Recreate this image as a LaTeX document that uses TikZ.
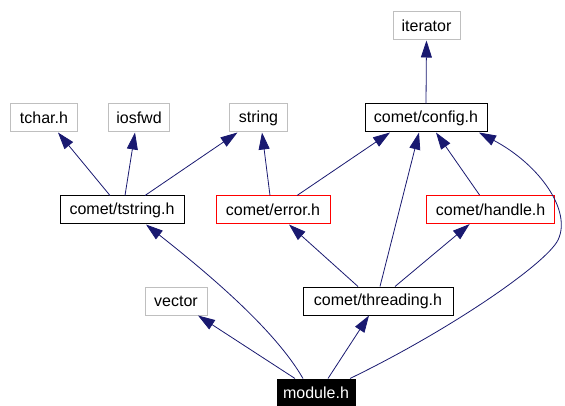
\documentclass[tikz,border=0pt]{standalone}
\usepackage{fontspec}
\setmainfont{Liberation Sans}
\usetikzlibrary{arrows.meta}
\definecolor{edgec}{RGB}{25,25,112}
\definecolor{extgray}{RGB}{191,191,191}
\definecolor{boxred}{RGB}{255,0,0}
\begin{document}
\begin{tikzpicture}[x=1pt,y=-1pt,
 box/.style={draw, minimum height=28pt, inner sep=0pt, font=\fontsize{16}{18}\selectfont, line width=1pt},
 ext/.style={box, draw=extgray},
 plainbox/.style={box, draw=black},
 redbox/.style={box, draw=boxred},
 mainbox/.style={box, fill=black, text=white, draw=black},
 dep/.style={draw=edgec, line width=0.8pt, -{Triangle[length=17pt,width=11pt]}}]
\useasboundingbox (0,0) rectangle (565,406);
\node[ext, minimum width=67pt] (iterator) at (426.5,26) {iterator};
\node[plainbox, minimum width=122pt] (config) at (426,118) {comet/config.h};
\node[ext, minimum width=67pt] (tchar) at (44,118) {tchar.h};
\node[ext, minimum width=61pt] (iosfwd) at (139,118) {iosfwd};
\node[ext, minimum width=58pt] (string) at (258.5,118) {string};
\node[plainbox, minimum width=124pt] (tstring) at (122,210) {comet/tstring.h};
\node[redbox, minimum width=114pt] (error) at (273,210) {comet/error.h};
\node[redbox, minimum width=128pt] (hdl) at (490.6,209.6) {comet/handle.h};
\node[ext, minimum width=62pt] (vector) at (176,301) {vector};
\node[plainbox, minimum width=150pt] (threading) at (378,301) {comet/threading.h};
\node[mainbox, minimum width=78pt] (module) at (316,393) {module.h};

\draw[dep] (config.north) -- (iterator.south);
\draw[dep] ([xshift=-12pt]tstring.north) -- ([xshift=14pt]tchar.south);
\draw[dep] ([xshift=3pt]tstring.north) -- ([xshift=-4pt]iosfwd.south);
\draw[dep] ([xshift=23pt]tstring.north) -- ([xshift=-21pt]string.south);
\draw[dep] ([xshift=-3pt]error.north) -- ([xshift=3.5pt]string.south);
\draw[dep] ([xshift=24pt]error.north) -- ([xshift=-36pt]config.south);
\draw[dep] ([xshift=2pt]threading.north) -- ([xshift=-7pt]config.south);
\draw[dep] ([xshift=-11pt]hdl.north) -- ([xshift=10pt]config.south);
\draw[dep] ([xshift=-20pt]threading.north) -- ([xshift=16pt]error.south);
\draw[dep] ([xshift=17pt]threading.north) -- ([xshift=-21pt]hdl.south);
\draw[dep] ([xshift=-21pt]module.north) -- ([xshift=22pt]vector.south);
\draw[dep] ([xshift=12pt]module.north) -- ([xshift=-9pt]threading.south);
\draw[dep] ([xshift=-13pt]module.north) .. controls (275,330) and (210,275) .. ([xshift=24pt]tstring.south);
\draw[dep] ([xshift=34pt]module.north) .. controls (450,330) and (546,264) .. (558,240)
  .. controls (572,211) and (540,165) .. ([xshift=53pt]config.south);
\end{tikzpicture}
\end{document}
